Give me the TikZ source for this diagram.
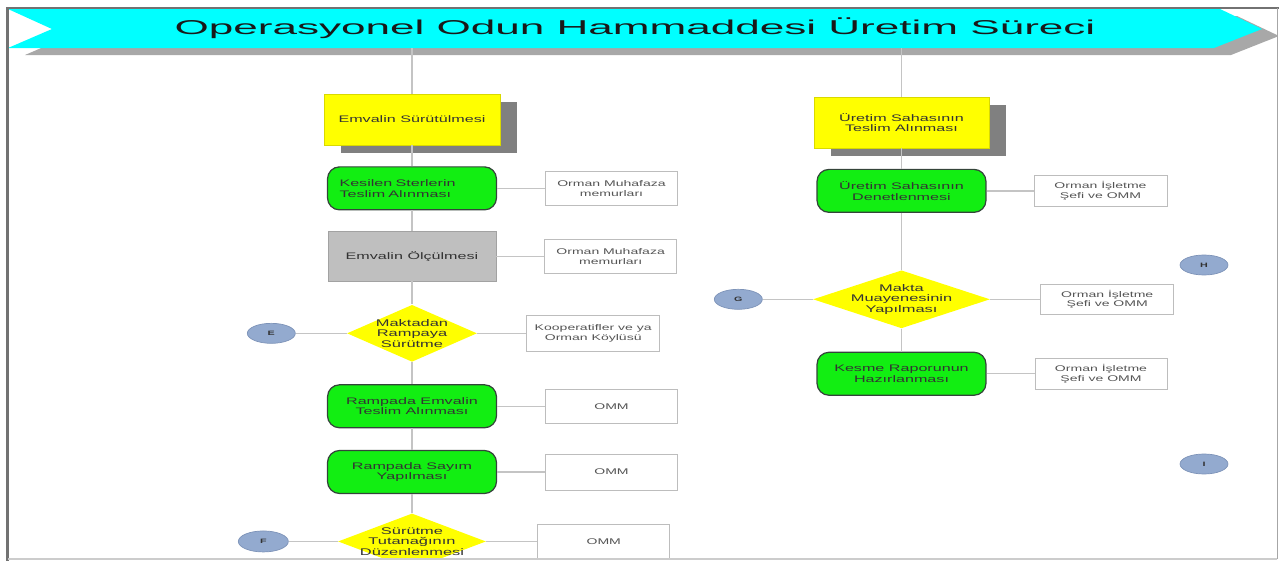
\documentclass[tikz,border=0pt]{standalone}
\usepackage{fontspec}
\usepackage{tikz}
\usetikzlibrary{positioning,shapes.geometric,shadows}
\usepackage{xcolor}
\newfontfamily\bannerfont{Liberation Sans}[FakeStretch=2.2]
\newfontfamily\flowfont{Liberation Sans}[FakeStretch=1.7]
\definecolor{bannercyan}{HTML}{00FFFF}
\definecolor{bannershade}{HTML}{A8A8A8}
\definecolor{framegray}{HTML}{727272}
\definecolor{stageyellow}{HTML}{FFFF00}
\definecolor{taskgreen}{HTML}{12EE12}
\definecolor{taskedge}{HTML}{34443A}
\definecolor{measuregray}{HTML}{BFBFBF}
\definecolor{shadowgray}{HTML}{808080}
\definecolor{linegray}{HTML}{C4C4C4}
\definecolor{sidegray}{HTML}{BDBDBD}
\definecolor{tagblue}{HTML}{93AACF}
\definecolor{tagedge}{HTML}{7D93B8}
\definecolor{darktext}{HTML}{333333}
\definecolor{sidetext}{HTML}{555555}

\begin{document}
\begin{tikzpicture}[x=0.02cm, y=-0.02cm,
  link/.style={draw=linegray, line width=0.8pt},
  stage/.style={rectangle, draw=stageyellow!85!black, line width=0.3pt,
                fill=stageyellow, minimum width=3.52cm, minimum height=1.02cm,
                font=\flowfont\fontsize{5.4}{6}\selectfont, text=darktext, align=center,
                general shadow={fill=shadowgray, shadow xshift=0.34cm, shadow yshift=-0.16cm}},
  task/.style={rectangle, rounded corners=0.24cm, draw=taskedge, line width=0.7pt,
               fill=taskgreen, minimum width=3.38cm, minimum height=0.86cm,
               font=\flowfont\fontsize{5.4}{6}\selectfont, text=darktext, align=center},
  measure/.style={rectangle, draw=measuregray!85!black, line width=0.3pt,
                  fill=measuregray, minimum width=3.36cm, minimum height=1cm,
                  font=\flowfont\fontsize{5.4}{6}\selectfont, text=darktext},
  decision/.style={diamond, fill=stageyellow, inner sep=0pt,
                   minimum width=2.6cm, minimum height=1.14cm},
  decitext/.style={font=\flowfont\fontsize{5.5}{5.9}\selectfont, text=darktext, align=center},
  actor/.style={rectangle, draw=sidegray, line width=0.5pt, fill=white,
                minimum width=2.64cm, minimum height=0.68cm,
                font=\flowfont\fontsize{4.7}{5.6}\selectfont, text=sidetext, align=center},
  tag/.style={ellipse, fill=tagblue, draw=tagedge, line width=0.4pt, inner sep=0pt,
              minimum width=0.96cm, minimum height=0.4cm,
              font=\flowfont\bfseries\fontsize{3.6}{4}\selectfont, text=darktext},
]
  \useasboundingbox (0,0) rectangle (1279,561);

  \begin{scope}
    \clip (8,9) rectangle (1277,558);

    \fill[bannershade] (25,16) -- (1237,16) -- (1279,36) -- (1231,55) -- (25,55) -- (69,36) -- cycle;
    \fill[bannercyan] (8,9) -- (1220,9) -- (1262,29) -- (1214,48) -- (8,48) -- (52,29) -- cycle;
    \node[font=\bannerfont\fontsize{11.4}{13}\selectfont, text=black!90] (title) at (635,28.5)
      {Operasyonel Odun Hammaddesi Üretim Süreci};

    \coordinate (topL) at (412,48);
    \coordinate (topR) at (901.5,48);

    \node[stage] (surut) at (412,119.5) {Emvalin Sürütülmesi};
    \node[task, below=0.42cm of surut, text width=2.9cm, align=left] (kesilen)
      {Kesilen Sterlerin\\Teslim Alınması};
    \node[measure, below=0.41cm of kesilen] (olcum) {Emvalin Ölçülmesi};
    \node[decision, below=0.46cm of olcum,
          label={[decitext]center:Maktadan\\Rampaya\\Sürütme}] (makrampa) {};
    \node[task, below=0.44cm of makrampa] (rteslim) {Rampada Emvalin\\Teslim Alınması};
    \node[task, below=0.43cm of rteslim] (rsayim) {Rampada Sayım\\Yapılması};
    \node[decision, below=0.38cm of rsayim, minimum width=2.96cm, minimum height=1.12cm,
          label={[decitext]center:Sürütme\\Tutanağının\\Düzenlenmesi}] (tutanak) {};

    \node[actor, right=0.96cm of kesilen] (omm1) {Orman Muhafaza\\memurları};
    \node[actor, right=0.96cm of olcum] (omm2) {Orman Muhafaza\\memurları};
    \node[actor, right=0.98cm of makrampa, minimum width=2.66cm, minimum height=0.72cm] (koop)
      {Kooperatifler ve ya\\Orman Köylüsü};
    \node[actor, right=0.96cm of rteslim] (omm3) {OMM};
    \node[actor, right=0.96cm of rsayim, minimum height=0.72cm] (omm4) {OMM};
    \node[actor, right=1.02cm of tutanak, minimum height=0.7cm] (omm5) {OMM};

    \node[tag, left=1.02cm of makrampa] (tagE) {E};
    \node[tag, left=0.98cm of tutanak, minimum width=1cm, minimum height=0.42cm] (tagF) {F};

    \node[stage, minimum width=3.5cm] (sahateslim) at (901.5,122.5)
      {Üretim Sahasının\\Teslim Alınması};
    \node[task, below=0.41cm of sahateslim] (denetim) {Üretim Sahasının\\Denetlenmesi};
    \node[decision, below=1.14cm of denetim, minimum width=3.54cm, minimum height=1.16cm,
          label={[decitext]center:Makta\\Muayenesinin\\Yapılması}] (muayene) {};
    \node[task, below=0.46cm of muayene] (rapor) {Kesme Raporunun\\Hazırlanması};

    \node[actor, right=0.94cm of denetim, minimum width=2.66cm, minimum height=0.46cm] (sef1)
      {Orman İşletme\\Şefi ve OMM};
    \node[actor, right=1cm of muayene, minimum width=2.66cm, minimum height=0.44cm] (sef2)
      {Orman İşletme\\Şefi ve OMM};
    \node[actor, right=0.96cm of rapor, minimum height=0.46cm] (sef3)
      {Orman İşletme\\Şefi ve OMM};

    \node[tag, left=1cm of muayene] (tagG) {G};
    \node[tag] (tagH) at (1204,265) {H};
    \node[tag] (tagI) at (1204,464) {I};

    \draw[link] (topL) -- (surut);
    \draw[link] (surut) -- (kesilen);
    \draw[link] (kesilen) -- (olcum);
    \draw[link] (olcum) -- (makrampa);
    \draw[link] (makrampa) -- (rteslim);
    \draw[link] (rteslim) -- (rsayim);
    \draw[link] (rsayim) -- (tutanak);
    \draw[link] (kesilen) -- (omm1);
    \draw[link] (olcum) -- (omm2);
    \draw[link] (makrampa) -- (koop);
    \draw[link] (rteslim) -- (omm3);
    \draw[link] (rsayim) -- (omm4);
    \draw[link] (tutanak) -- (omm5);
    \draw[link] (tagE) -- (makrampa);
    \draw[link] (tagF) -- (tutanak);

    \draw[link] (topR) -- (sahateslim);
    \draw[link] (sahateslim) -- (denetim);
    \draw[link] (denetim) -- (muayene);
    \draw[link] (muayene) -- (rapor);
    \draw[link] (denetim) -- (sef1);
    \draw[link] (muayene) -- (sef2);
    \draw[link] (rapor) -- (sef3);
    \draw[link] (tagG) -- (muayene);
  \end{scope}

  \draw[framegray, line width=1.4pt] (6,8) -- (1279,8);
  \draw[framegray, line width=1.6pt] (7.5,7) -- (7.5,561);
  \draw[black!35, line width=0.5pt] (1277,8) -- (1277,559);
  \draw[black!20, line width=0.6pt] (8,559) -- (1277,559);
\end{tikzpicture}
\end{document}
